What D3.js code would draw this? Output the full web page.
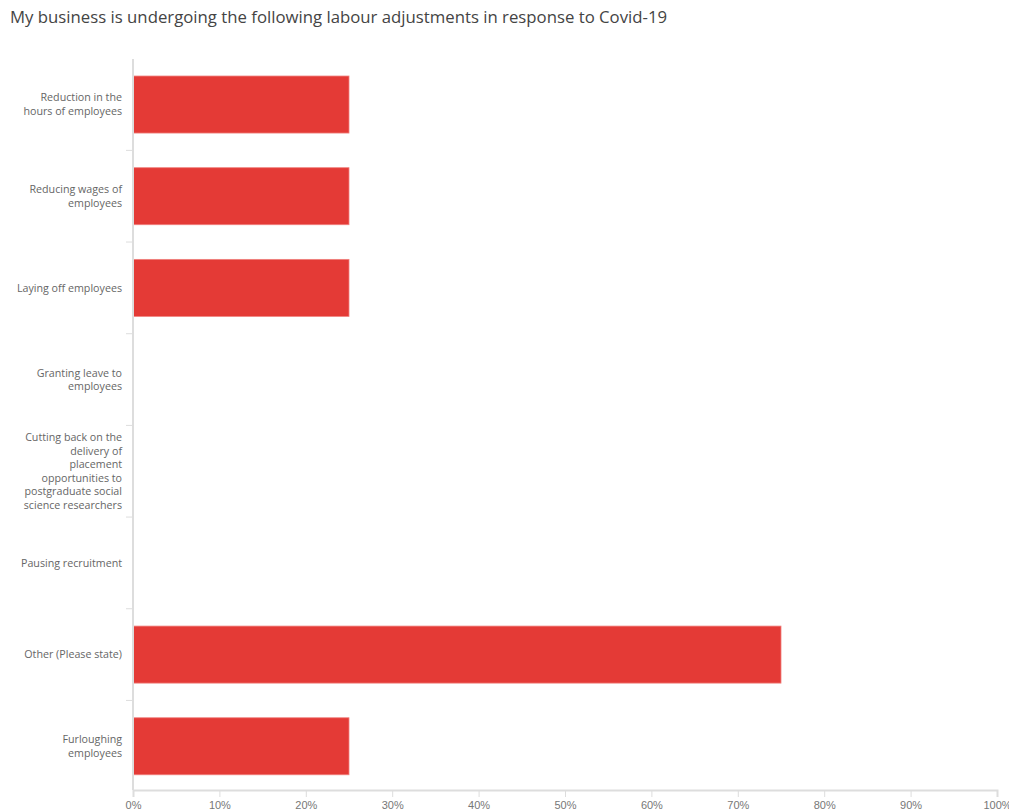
<!DOCTYPE html>
<html>
<head>
<meta charset="utf-8">
<script src="https://cdn.jsdelivr.net/npm/d3@7"></script>
<style>
  body { margin: 0; background: #fff; }
  svg { display: block; font-family: "Open Sans", sans-serif; }
</style>
</head>
<body>
<svg id="chart" width="1009" height="812"></svg>
<script>
// Survey responses: labour adjustments made in response to Covid-19
const categories = [
  "Reduction in the\nhours of employees",
  "Reducing wages of\nemployees",
  "Laying off employees",
  "Granting leave to\nemployees",
  "Cutting back on the\ndelivery of\nplacement\nopportunities to\npostgraduate social\nscience researchers",
  "Pausing recruitment",
  "Other (Please state)",
  "Furloughing\nemployees"
];
const percentages = [25, 25, 25, 0, 0, 0, 75, 25];
const xTicks = [0, 10, 20, 30, 40, 50, 60, 70, 80, 90, 100];
const title = "My business is undergoing the following labour adjustments in response to Covid-19";

const svg = d3.select("#chart");
const width = 1009, height = 812;
const plotLeft = 133, plotRight = 997, plotTop = 59, axisY = 790;

const x = d3.scaleLinear()
  .domain([0, 100])
  .range([plotLeft, plotRight]);

const y = d3.scaleBand()
  .domain(categories)
  .range([58.6, 792.2])
  .paddingInner(0.378)
  .paddingOuter(0.19);

// Title
svg.append("text")
  .attr("x", 10)
  .attr("y", 23)
  .attr("fill", "#444")
  .style("font-size", "16.75px")
  .text(title);

// Bars
svg.append("g")
  .selectAll("rect")
  .data(percentages)
  .join("rect")
  .attr("x", x(0))
  .attr("y", (d, i) => y(categories[i]))
  .attr("width", d => x(d) - x(0))
  .attr("height", y.bandwidth())
  .attr("fill", "#e43a36")
  .attr("stroke", "#f0807d")
  .attr("stroke-width", 0.8)
  .attr("display", d => d > 0 ? null : "none");

// Bottom axis
const xAxis = svg.append("g")
  .attr("transform", `translate(0,${axisY})`)
  .call(d3.axisBottom(x).tickValues(xTicks).tickFormat(d => d + "%").tickSize(7).tickPadding(4));
xAxis.select(".domain").attr("stroke", "#ddd").attr("stroke-width", 2);
xAxis.selectAll(".tick line").attr("stroke", "#ddd");
xAxis.selectAll(".tick text")
  .attr("fill", "#777")
  .style("font-size", "11px");

// Left axis: ticks sit on the boundaries between bands
const step = y.step();
const boundaries = categories.slice(1).map(c => y(c) - (step - y.bandwidth()) / 2);
const yAxisG = svg.append("g");
yAxisG.append("line")
  .attr("x1", x(0)).attr("x2", x(0))
  .attr("y1", plotTop).attr("y2", axisY)
  .attr("stroke", "#ddd").attr("stroke-width", 2);
yAxisG.selectAll("line.tick")
  .data(boundaries)
  .join("line")
  .attr("class", "tick")
  .attr("x1", x(0) - 7).attr("x2", x(0))
  .attr("y1", d => d).attr("y2", d => d)
  .attr("stroke", "#ddd");

// Category labels, right-aligned and wrapped on explicit breaks
const lineHeight = 13.6;
const labels = yAxisG.selectAll("text.cat")
  .data(categories)
  .join("text")
  .attr("class", "cat")
  .attr("text-anchor", "end")
  .attr("fill", "#666")
  .style("font-size", "10.7px");
labels.each(function(d) {
  const lines = d.split("\n");
  const cy = y(d) + y.bandwidth() / 2;
  const startY = cy - (lines.length - 1) * lineHeight / 2;
  d3.select(this).selectAll("tspan")
    .data(lines)
    .join("tspan")
    .attr("x", x(0) - 11)
    .attr("y", (l, i) => startY + i * lineHeight)
    .attr("dy", "0.35em")
    .text(l => l);
});
</script>
</body>
</html>
